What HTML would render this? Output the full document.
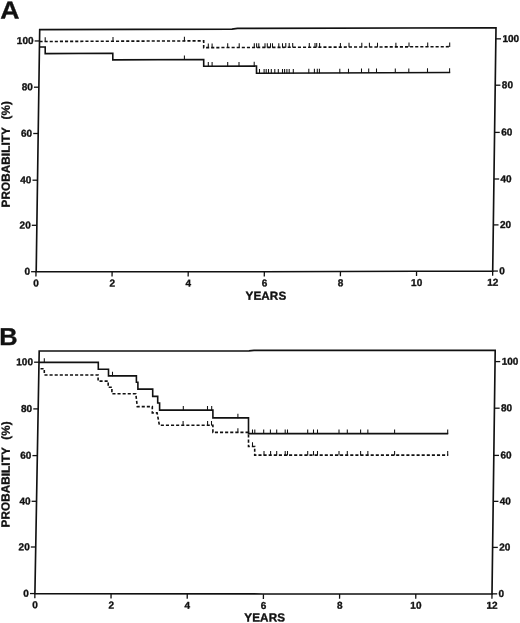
<!DOCTYPE html>
<html><head><meta charset="utf-8"><title>Figure</title>
<style>
html,body{margin:0;padding:0;background:#fff;}
body{width:520px;height:623px;overflow:hidden;}
svg{display:block;}
text{font-family:"Liberation Sans",sans-serif;font-weight:bold;text-rendering:geometricPrecision;fill:#111;stroke:#111;stroke-width:0.35px;stroke-linejoin:round;}
.tk{font-size:10px;letter-spacing:0px;}
.lb{font-size:11.7px;letter-spacing:0.1px;}
.pl{font-size:24.4px;}
</style></head><body>
<svg width="520" height="623" viewBox="0 0 520 623">
<rect width="520" height="623" fill="#fff"/>
<text transform="translate(0.3,18.5) rotate(0.03) scale(1.09,1)" class="pl">A</text>
<text transform="translate(-0.8,345.05) rotate(0.03) scale(1.04,1)" class="pl">B</text>
<g>
<polygon points="36.20,271.70 264.00,271.70 416.00,271.20 492.70,271.06 496.00,27.80 237.50,28.40 232.00,29.15 39.70,29.60" fill="none" stroke="#111" stroke-width="1.65" stroke-linejoin="miter"/>
<line x1="31.10" y1="271.70" x2="36.00" y2="271.70" stroke="#111" stroke-width="1.3"/>
<text transform="translate(30.00,274.85) rotate(0.03)" text-anchor="end" class="tk">0</text>
<line x1="492.70" y1="271.06" x2="497.90" y2="271.06" stroke="#111" stroke-width="1.3"/>
<text transform="translate(499.30,274.21) rotate(0.03)" class="tk">0</text>
<line x1="31.81" y1="225.30" x2="36.71" y2="225.30" stroke="#111" stroke-width="1.3"/>
<text transform="translate(30.71,228.45) rotate(0.03)" text-anchor="end" class="tk">20</text>
<line x1="493.33" y1="224.90" x2="498.53" y2="224.90" stroke="#111" stroke-width="1.3"/>
<text transform="translate(499.93,228.05) rotate(0.03)" class="tk">20</text>
<line x1="32.51" y1="180.20" x2="37.41" y2="180.20" stroke="#111" stroke-width="1.3"/>
<text transform="translate(31.41,183.35) rotate(0.03)" text-anchor="end" class="tk">40</text>
<line x1="493.95" y1="179.00" x2="499.15" y2="179.00" stroke="#111" stroke-width="1.3"/>
<text transform="translate(500.55,182.15) rotate(0.03)" class="tk">40</text>
<line x1="33.23" y1="133.50" x2="38.13" y2="133.50" stroke="#111" stroke-width="1.3"/>
<text transform="translate(32.13,136.65) rotate(0.03)" text-anchor="end" class="tk">60</text>
<line x1="494.58" y1="132.40" x2="499.78" y2="132.40" stroke="#111" stroke-width="1.3"/>
<text transform="translate(501.18,135.55) rotate(0.03)" class="tk">60</text>
<line x1="33.94" y1="87.20" x2="38.84" y2="87.20" stroke="#111" stroke-width="1.3"/>
<text transform="translate(32.84,90.35) rotate(0.03)" text-anchor="end" class="tk">80</text>
<line x1="495.22" y1="85.20" x2="500.42" y2="85.20" stroke="#111" stroke-width="1.3"/>
<text transform="translate(501.82,88.35) rotate(0.03)" class="tk">80</text>
<line x1="34.65" y1="40.96" x2="39.55" y2="40.96" stroke="#111" stroke-width="1.3"/>
<text transform="translate(33.55,44.11) rotate(0.03)" text-anchor="end" class="tk">100</text>
<line x1="495.85" y1="38.85" x2="501.05" y2="38.85" stroke="#111" stroke-width="1.3"/>
<text transform="translate(502.45,42.00) rotate(0.03)" class="tk">100</text>
<line x1="36.00" y1="271.70" x2="35.93" y2="276.50" stroke="#111" stroke-width="1.3"/>
<text transform="translate(36.10,286.50) rotate(0.03)" text-anchor="middle" class="tk">0</text>
<line x1="112.12" y1="271.70" x2="112.05" y2="276.50" stroke="#111" stroke-width="1.3"/>
<text transform="translate(112.22,286.50) rotate(0.03)" text-anchor="middle" class="tk">2</text>
<line x1="188.23" y1="271.70" x2="188.16" y2="276.50" stroke="#111" stroke-width="1.3"/>
<text transform="translate(188.33,286.50) rotate(0.03)" text-anchor="middle" class="tk">4</text>
<line x1="264.35" y1="271.70" x2="264.28" y2="276.50" stroke="#111" stroke-width="1.3"/>
<text transform="translate(264.45,286.50) rotate(0.03)" text-anchor="middle" class="tk">6</text>
<line x1="340.47" y1="271.49" x2="340.40" y2="276.29" stroke="#111" stroke-width="1.3"/>
<text transform="translate(340.57,286.29) rotate(0.03)" text-anchor="middle" class="tk">8</text>
<line x1="416.58" y1="271.27" x2="416.51" y2="276.07" stroke="#111" stroke-width="1.3"/>
<text transform="translate(416.68,286.07) rotate(0.03)" text-anchor="middle" class="tk">10</text>
<line x1="492.70" y1="271.06" x2="492.63" y2="275.86" stroke="#111" stroke-width="1.3"/>
<text transform="translate(492.80,285.86) rotate(0.03)" text-anchor="middle" class="tk">12</text>
<text transform="translate(265.90,299.80) rotate(0.03)" text-anchor="middle" class="lb">YEARS</text>
<text transform="translate(9.80,207.40) rotate(-89.97)" class="lb" style="white-space:pre;word-spacing:0.5px">PROBABILITY  (%)</text>
<path d="M39.50 41.50 L203.70 40.84 L203.70 47.64 L450.20 46.66" fill="none" stroke="#111" stroke-width="1.6" stroke-dasharray="3.1 2.0"/>
<path d="M45.20 41.78 V37.28 M113.00 41.50 V37.00 M184.40 41.22 V36.72 M208.30 47.92 V43.42 M212.10 47.91 V43.41 M227.70 47.85 V43.35 M239.20 47.80 V43.30 M254.30 47.74 V43.24 M256.60 47.73 V43.23 M258.80 47.72 V43.22 M265.00 47.70 V43.20 M267.30 47.69 V43.19 M270.50 47.67 V43.17 M272.50 47.67 V43.17 M278.80 47.64 V43.14 M282.50 47.63 V43.13 M285.80 47.61 V43.11 M289.20 47.60 V43.10 M292.70 47.59 V43.09 M309.30 47.52 V43.02 M315.00 47.50 V43.00 M316.70 47.49 V42.99 M319.60 47.48 V42.98 M340.40 47.39 V42.89 M349.00 47.36 V42.86 M361.80 47.31 V42.81 M369.40 47.28 V42.78 M377.50 47.25 V42.75 M395.90 47.17 V42.67 M409.00 47.12 V42.62 M427.70 47.05 V42.55 M449.70 46.96 V42.46 " fill="none" stroke="#111" stroke-width="1.05"/>
<path d="M39.50 47.00 L45.20 46.98 L45.20 53.58 L112.80 53.30 L112.80 59.90 L203.70 59.54 L203.70 66.24 L256.50 66.03 L256.50 73.23 L450.20 72.46" fill="none" stroke="#111" stroke-width="1.6"/>
<path d="M184.40 59.92 V55.42 M208.30 66.52 V62.02 M212.10 66.51 V62.01 M227.70 66.45 V61.95 M239.00 66.40 V61.90 M254.20 66.34 V61.84 M259.50 73.52 V69.02 M264.10 73.50 V69.00 M266.20 73.49 V68.99 M268.50 73.48 V68.98 M271.30 73.47 V68.97 M274.80 73.46 V68.96 M278.30 73.44 V68.94 M282.50 73.43 V68.93 M284.60 73.42 V68.92 M286.90 73.41 V68.91 M289.20 73.40 V68.90 M293.30 73.38 V68.88 M308.80 73.32 V68.82 M314.40 73.30 V68.80 M317.30 73.29 V68.79 M319.40 73.28 V68.78 M339.80 73.20 V68.70 M348.50 73.16 V68.66 M361.50 73.11 V68.61 M368.70 73.08 V68.58 M376.50 73.05 V68.55 M395.30 72.97 V68.47 M408.80 72.92 V68.42 M427.50 72.85 V68.35 M449.60 72.76 V68.26 " fill="none" stroke="#111" stroke-width="1.05"/>
</g>
<g>
<polygon points="34.90,593.56 263.00,593.95 492.00,593.85 495.20,350.40 254.00,350.40 249.00,350.90 39.20,350.96" fill="none" stroke="#111" stroke-width="1.65" stroke-linejoin="miter"/>
<line x1="30.00" y1="593.56" x2="34.90" y2="593.56" stroke="#111" stroke-width="1.3"/>
<text transform="translate(28.90,596.71) rotate(0.03)" text-anchor="end" class="tk">0</text>
<line x1="492.00" y1="593.85" x2="497.20" y2="593.85" stroke="#111" stroke-width="1.3"/>
<text transform="translate(498.60,597.00) rotate(0.03)" class="tk">0</text>
<line x1="30.83" y1="547.00" x2="35.73" y2="547.00" stroke="#111" stroke-width="1.3"/>
<text transform="translate(29.73,550.15) rotate(0.03)" text-anchor="end" class="tk">20</text>
<line x1="492.61" y1="547.40" x2="497.81" y2="547.40" stroke="#111" stroke-width="1.3"/>
<text transform="translate(499.21,550.55) rotate(0.03)" class="tk">20</text>
<line x1="31.63" y1="501.30" x2="36.53" y2="501.30" stroke="#111" stroke-width="1.3"/>
<text transform="translate(30.53,504.45) rotate(0.03)" text-anchor="end" class="tk">40</text>
<line x1="493.21" y1="501.35" x2="498.41" y2="501.35" stroke="#111" stroke-width="1.3"/>
<text transform="translate(499.81,504.50) rotate(0.03)" class="tk">40</text>
<line x1="32.44" y1="455.60" x2="37.34" y2="455.60" stroke="#111" stroke-width="1.3"/>
<text transform="translate(31.34,458.75) rotate(0.03)" text-anchor="end" class="tk">60</text>
<line x1="493.82" y1="455.40" x2="499.02" y2="455.40" stroke="#111" stroke-width="1.3"/>
<text transform="translate(500.42,458.55) rotate(0.03)" class="tk">60</text>
<line x1="33.27" y1="408.90" x2="38.17" y2="408.90" stroke="#111" stroke-width="1.3"/>
<text transform="translate(32.17,412.05) rotate(0.03)" text-anchor="end" class="tk">80</text>
<line x1="494.44" y1="408.20" x2="499.64" y2="408.20" stroke="#111" stroke-width="1.3"/>
<text transform="translate(501.04,411.35) rotate(0.03)" class="tk">80</text>
<line x1="34.10" y1="362.20" x2="39.00" y2="362.20" stroke="#111" stroke-width="1.3"/>
<text transform="translate(33.00,365.35) rotate(0.03)" text-anchor="end" class="tk">100</text>
<line x1="495.05" y1="361.60" x2="500.25" y2="361.60" stroke="#111" stroke-width="1.3"/>
<text transform="translate(501.65,364.75) rotate(0.03)" class="tk">100</text>
<line x1="34.90" y1="593.56" x2="34.83" y2="598.36" stroke="#111" stroke-width="1.3"/>
<text transform="translate(35.00,608.36) rotate(0.03)" text-anchor="middle" class="tk">0</text>
<line x1="111.08" y1="593.76" x2="111.01" y2="598.56" stroke="#111" stroke-width="1.3"/>
<text transform="translate(111.18,608.56) rotate(0.03)" text-anchor="middle" class="tk">2</text>
<line x1="187.27" y1="593.96" x2="187.20" y2="598.76" stroke="#111" stroke-width="1.3"/>
<text transform="translate(187.37,608.76) rotate(0.03)" text-anchor="middle" class="tk">4</text>
<line x1="263.45" y1="594.15" x2="263.38" y2="598.95" stroke="#111" stroke-width="1.3"/>
<text transform="translate(263.55,608.95) rotate(0.03)" text-anchor="middle" class="tk">6</text>
<line x1="339.63" y1="594.05" x2="339.56" y2="598.85" stroke="#111" stroke-width="1.3"/>
<text transform="translate(339.73,608.85) rotate(0.03)" text-anchor="middle" class="tk">8</text>
<line x1="415.82" y1="593.95" x2="415.75" y2="598.75" stroke="#111" stroke-width="1.3"/>
<text transform="translate(415.92,608.75) rotate(0.03)" text-anchor="middle" class="tk">10</text>
<line x1="492.00" y1="593.85" x2="491.93" y2="598.65" stroke="#111" stroke-width="1.3"/>
<text transform="translate(492.10,608.65) rotate(0.03)" text-anchor="middle" class="tk">12</text>
<text transform="translate(264.70,621.50) rotate(0.03)" text-anchor="middle" class="lb">YEARS</text>
<text transform="translate(9.60,527.50) rotate(-89.97)" class="lb" style="white-space:pre;word-spacing:0.5px">PROBABILITY  (%)</text>
<path d="M39.00 362.40 L98.30 362.40 L98.30 369.30 L108.50 369.30 L108.50 375.90 L136.40 375.90 L136.40 382.25 L137.90 382.25 L137.90 389.10 L152.70 389.10 L152.70 396.40 L157.70 396.40 L157.70 403.00 L159.60 403.00 L159.60 410.10 L212.90 410.10 L212.90 417.85 L248.50 417.85 L248.50 433.60 L448.20 433.60" fill="none" stroke="#111" stroke-width="1.6"/>
<path d="M44.30 362.70 V358.20 M112.50 376.20 V371.70 M183.30 410.40 V405.90 M207.50 410.40 V405.90 M211.70 410.40 V405.90 M237.90 418.15 V413.65 M252.50 433.90 V429.40 M254.80 433.90 V429.40 M263.70 433.90 V429.40 M270.40 433.90 V429.40 M276.70 433.90 V429.40 M285.20 433.90 V429.40 M287.50 433.90 V429.40 M307.70 433.90 V429.40 M313.50 433.90 V429.40 M317.50 433.90 V429.40 M339.00 433.90 V429.40 M347.30 433.90 V429.40 M360.60 433.90 V429.40 M367.85 433.90 V429.40 M394.60 433.90 V429.40 M447.70 433.90 V429.40 " fill="none" stroke="#111" stroke-width="1.05"/>
<path d="M40.50 368.70 L44.30 368.70 L44.30 374.95 L98.10 374.95 L98.10 381.10 L108.20 381.10 L108.20 387.20 L111.90 387.20 L111.90 393.70 L135.80 393.70 L137.30 406.60 L152.30 406.60 L152.30 412.90 L157.10 412.90 L159.40 425.30 L212.90 425.30 L212.90 432.40 L248.50 432.40 L248.50 446.50 L254.70 446.50 L254.70 455.15 L448.20 455.15" fill="none" stroke="#111" stroke-width="1.6" stroke-dasharray="3.1 2.0"/>
<path d="M183.10 425.60 V421.10 M207.60 425.60 V421.10 M211.50 425.60 V421.10 M237.90 432.70 V428.20 M252.50 446.80 V442.30 M264.00 455.45 V450.95 M270.60 455.45 V450.95 M276.70 455.45 V450.95 M285.20 455.45 V450.95 M287.50 455.45 V450.95 M307.70 455.45 V450.95 M313.50 455.45 V450.95 M317.50 455.45 V450.95 M339.00 455.45 V450.95 M347.30 455.45 V450.95 M360.60 455.45 V450.95 M367.85 455.45 V450.95 M394.60 455.45 V450.95 M447.70 455.45 V450.95 " fill="none" stroke="#111" stroke-width="1.05"/>
</g>
</svg>
</body></html>
